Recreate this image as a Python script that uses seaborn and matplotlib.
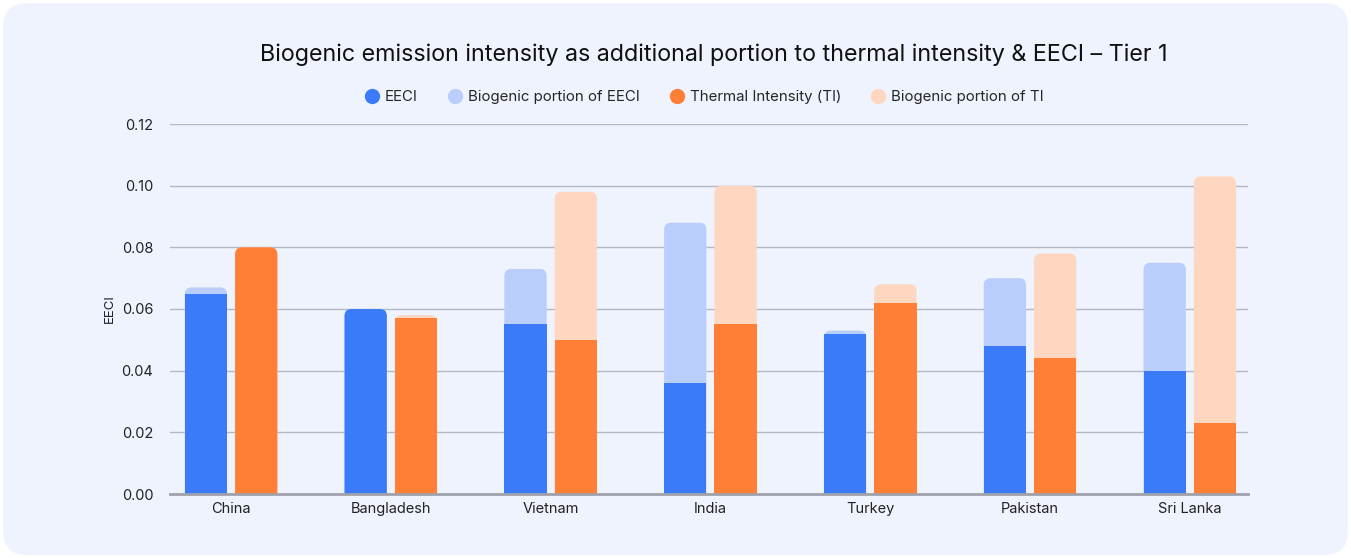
import numpy as np
import pandas as pd
import matplotlib
matplotlib.use('Agg')
import matplotlib.pyplot as plt
import seaborn as sb
from matplotlib.patches import FancyBboxPatch
from matplotlib.lines import Line2D

countries = ['China', 'Bangladesh', 'Vietnam', 'India', 'Turkey', 'Pakistan', 'Sri Lanka']
eeci = [0.065, 0.060, 0.055, 0.036, 0.052, 0.048, 0.040]
eeci_biogenic = [0.002, 0.000, 0.018, 0.052, 0.001, 0.022, 0.035]
thermal = [0.080, 0.057, 0.050, 0.055, 0.062, 0.044, 0.023]
thermal_biogenic = [0.000, 0.001, 0.048, 0.045, 0.006, 0.034, 0.080]

legend_labels = ['EECI', 'Biogenic portion of EECI', 'Thermal Intensity (TI)', 'Biogenic portion of TI']
colors = ['#3b7bfa', '#b9cefb', '#ff7f36', '#ffd6bf']
bg = '#eff3fe'

# tabela: osnova + ukupno (osnova + biogeni deo)
df = pd.DataFrame({
    'country': countries * 2,
    'metric': ['EECI'] * 7 + ['TI'] * 7,
    'base': eeci + thermal,
    'total': list(np.add(eeci, eeci_biogenic)) + list(np.add(thermal, thermal_biogenic)),
})

sb.set_style('white')
plt.rcParams['font.family'] = ['Inter', 'DejaVu Sans']

fig = plt.figure(figsize=(13.51, 5.58), dpi=100)
fig.patch.set_facecolor('white')
frame = FancyBboxPatch((3 / 1351, 3 / 558), 1345 / 1351, 552 / 558,
                       boxstyle='round,pad=0,rounding_size=0.018',
                       mutation_aspect=1351 / 558,
                       transform=fig.transFigure, facecolor=bg,
                       edgecolor='none', zorder=-10)
fig.patches.append(frame)

ax = fig.add_axes([170 / 1351, 64 / 558, 1078 / 1351, 370 / 558])
ax.set_zorder(5)
ax.set_facecolor(bg)

sb.barplot(data=df, x='country', y='total', hue='metric', palette=[colors[1], colors[3]],
           width=0.63, gap=0.16, saturation=1, ax=ax, legend=False, zorder=2)
n_light = len(ax.patches)
sb.barplot(data=df, x='country', y='base', hue='metric', palette=[colors[0], colors[2]],
           width=0.63, gap=0.16, saturation=1, ax=ax, legend=False, zorder=3)

x_lo, x_hi = -0.382, 6.364
ax.set_xlim(x_lo, x_hi)
ax.set_ylim(0, 0.12)

# zaobljeni vrhovi stubica
px_x = 1078 / (x_hi - x_lo)
px_y = 370 / 0.12
r = 7 / px_x
aspect = px_x / px_y
tops = list(df['total'])
for i, p in enumerate(list(ax.patches)):
    x0, w, h = p.get_x(), p.get_width(), p.get_height()
    light = i < n_light
    k = i % n_light
    rounded = light or abs(h - tops[k]) < 1e-9
    fc = p.get_facecolor()
    p.remove()
    if rounded:
        newp = FancyBboxPatch((x0, -0.004), w, h + 0.004,
                              boxstyle=f'round,pad=0,rounding_size={r}',
                              mutation_aspect=aspect)
    else:
        newp = FancyBboxPatch((x0, 0), w, h, boxstyle='square,pad=0')
    newp.set_facecolor(fc)
    newp.set_edgecolor('none')
    newp.set_zorder(2 if light else 3)
    ax.add_patch(newp)

ax.set_yticks(np.arange(0, 0.121, 0.02))
ax.set_yticklabels([f'{v:.2f}' for v in np.arange(0, 0.121, 0.02)])
ax.grid(axis='y', color='#b4b8c4', linewidth=1, zorder=1)
ax.set_axisbelow(True)
for s in ['top', 'right', 'left']:
    ax.spines[s].set_visible(False)
ax.spines['bottom'].set_color('#9fa2aa')
ax.spines['bottom'].set_linewidth(2)
ax.spines['bottom'].set_zorder(4)
ax.tick_params(axis='both', length=0, labelsize=10.5, colors='#222222', pad=6)
ax.tick_params(axis='y', pad=12)
ax.set_xlabel('')
ax.set_ylabel('EECI', fontsize=9.5, color='#222222', labelpad=4)

fig.text(714 / 1351, 1 - 55 / 558, 'Biogenic emission intensity as additional portion to thermal intensity & EECI \u2013 Tier 1',
         ha='center', va='center', fontsize=16.8, color='#111111')

handles = [Line2D([], [], marker='o', linestyle='none', markersize=11,
                  markerfacecolor=c, markeredgecolor='none') for c in colors]
fig.legend(handles, legend_labels, loc='center', bbox_to_anchor=(704 / 1351, 1 - 97 / 558),
           ncol=4, frameon=False, fontsize=10.8, handletextpad=0.35, columnspacing=2.0,
           handlelength=1.0)

fig.savefig('out.png', dpi=100, facecolor='white')
